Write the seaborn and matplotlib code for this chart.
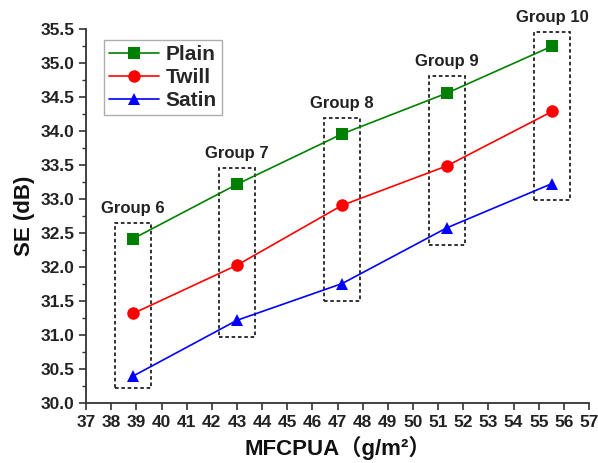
import matplotlib
matplotlib.use("Agg")
import matplotlib.pyplot as plt
import seaborn as sns
import pandas as pd
from matplotlib.patches import Rectangle
from matplotlib.ticker import MultipleLocator, FormatStrFormatter

mfcpua = [38.87, 43.0, 47.18, 51.35, 55.53]
plain = [32.42, 33.22, 33.96, 34.56, 35.25]
twill = [31.32, 32.03, 32.91, 33.49, 34.29]
satin = [30.40, 31.22, 31.76, 32.58, 33.23]
groups = ["Group 6", "Group 7", "Group 8", "Group 9", "Group 10"]
box_bottom = [30.22, 30.98, 31.51, 32.33, 32.99]
box_top = [32.65, 33.46, 34.20, 34.81, 35.46]
series = ["Plain", "Twill", "Satin"]

df = pd.DataFrame({
    "x": mfcpua * 3,
    "y": plain + twill + satin,
    "fabric": [s for s in series for _ in mfcpua],
})

sns.set_theme(style="ticks")
plt.rcParams["font.family"] = ["Liberation Sans", "Noto Sans CJK SC", "DejaVu Sans"]
plt.rcParams["font.weight"] = "bold"

fig = plt.figure(figsize=(5.98, 4.63), dpi=100)
ax = fig.add_axes([0.144, 0.129, 0.841, 0.808])

palette = {"Plain": "#008000", "Twill": "#ff0000", "Satin": "#0000ff"}
markers = {"Plain": "s", "Twill": "o", "Satin": "^"}
sns.lineplot(data=df, x="x", y="y", hue="fabric", style="fabric",
             palette=palette, markers=markers, dashes=False,
             markersize=9, linewidth=1.2, markeredgewidth=0, ax=ax)

for xc, b, t, g in zip(mfcpua, box_bottom, box_top, groups):
    ax.add_patch(Rectangle((xc - 0.72, b), 1.44, t - b, fill=False,
                           linestyle=(0, (2, 1.5)), linewidth=1.3,
                           edgecolor="#222222", zorder=1))
    ax.text(xc, t + 0.1, g, ha="center", va="bottom", fontsize=12,
            fontweight="bold", color="#222222")

ax.set_xlim(37, 57)
ax.set_ylim(30.0, 35.5)
ax.xaxis.set_major_locator(MultipleLocator(1))
ax.yaxis.set_major_locator(MultipleLocator(0.5))
ax.yaxis.set_minor_locator(MultipleLocator(0.25))
ax.yaxis.set_major_formatter(FormatStrFormatter("%.1f"))
ax.tick_params(axis="both", which="major", labelsize=12.5, length=5, width=1.2,
               color="#333333", labelcolor="#222222")
ax.tick_params(axis="y", which="minor", length=3, width=1.0, color="#333333")
for lbl in ax.get_xticklabels() + ax.get_yticklabels():
    lbl.set_fontweight("bold")
for s in ["top", "right"]:
    ax.spines[s].set_visible(False)
for s in ["left", "bottom"]:
    ax.spines[s].set_linewidth(1.3)
    ax.spines[s].set_color("#333333")

ax.set_xlabel("MFCPUA\uff08g/m\u00b2\uff09", fontsize=16, fontweight="bold", color="#111111")
ax.set_ylabel("SE (dB)", fontsize=16, fontweight="bold", color="#111111")

leg = ax.legend(loc="upper left", bbox_to_anchor=(0.015, 1.0), fontsize=15,
                frameon=True, fancybox=False, edgecolor="#999999",
                handlelength=2.4, borderpad=0.25, labelspacing=0.2, handletextpad=0.3)
for t in leg.get_texts():
    t.set_fontweight("bold")

fig.savefig("out.png", dpi=100)
